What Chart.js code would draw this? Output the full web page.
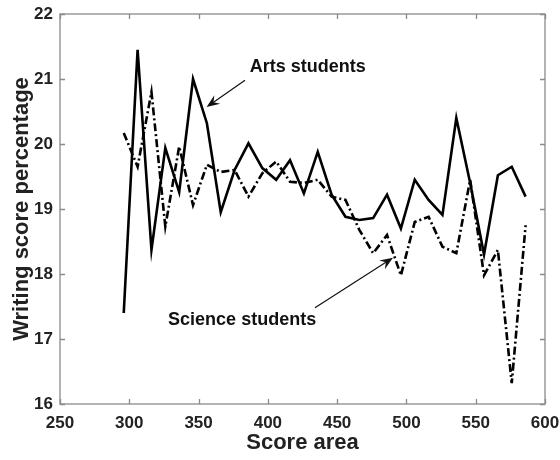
<!DOCTYPE html>
<html>
<head>
<meta charset="utf-8">
<script src="https://cdn.jsdelivr.net/npm/chart.js@4"></script>
<style>
  html, body { margin: 0; padding: 0; background: #fff; }
  #wrap { width: 560px; height: 460px; position: relative; }
</style>
</head>
<body>
<div id="wrap"><canvas id="chart" width="560" height="460"></canvas></div>
<script>
// score area positions
const scoreArea = [296, 306, 316, 326, 336, 346, 356, 366, 376, 386,
                   396, 406, 416, 426, 436, 446, 456, 466, 476, 486,
                   496, 506, 516, 526, 536, 546, 556, 566, 576, 586];
const artsScores = [17.4, 21.45, 18.37, 19.94, 19.26, 21.0, 20.32, 18.95, 19.6, 20.01,
                    19.63, 19.45, 19.75, 19.24, 19.88, 19.22, 18.88, 18.83, 18.86, 19.22,
                    18.7, 19.45, 19.14, 18.91, 20.4, 19.4, 18.3, 19.52, 19.65, 19.19];
const scienceScores = [20.17, 19.65, 20.8, 18.73, 19.96, 19.06, 19.68, 19.57, 19.6, 19.19,
                       19.55, 19.73, 19.42, 19.4, 19.45, 19.19, 19.14, 18.68, 18.32, 18.6,
                       17.98, 18.8, 18.88, 18.42, 18.32, 19.45, 17.98, 18.37, 16.32, 18.75];
const xTicks = [250, 300, 350, 400, 450, 500, 550, 600];
const yTicks = [16, 17, 18, 19, 20, 21, 22];

const FONT = '"Liberation Sans", Arial, sans-serif';
const TXT = '#222';

function toPts(xs, ys) {
  return xs.map((x, i) => ({ x: x, y: ys[i] }));
}

function arrow(ctx, x1, y1, x2, y2) {
  const ang = Math.atan2(y2 - y1, x2 - x1);
  const len = 14, wid = 0.38;
  ctx.beginPath();
  ctx.moveTo(x1, y1);
  ctx.lineTo(x2 - Math.cos(ang) * len * 0.6, y2 - Math.sin(ang) * len * 0.6);
  ctx.stroke();
  ctx.beginPath();
  ctx.moveTo(x2, y2);
  ctx.lineTo(x2 - len * Math.cos(ang - wid), y2 - len * Math.sin(ang - wid));
  ctx.lineTo(x2 - len * 0.6 * Math.cos(ang), y2 - len * 0.6 * Math.sin(ang));
  ctx.lineTo(x2 - len * Math.cos(ang + wid), y2 - len * Math.sin(ang + wid));
  ctx.closePath();
  ctx.fill();
}

const boxPlugin = {
  id: 'box',
  afterDatasetsDraw(chart) {
    const { ctx, chartArea: a, scales } = chart;
    const sx = scales.x, sy = scales.y;
    ctx.save();
    ctx.strokeStyle = '#8a8a8a';
    ctx.lineWidth = 1.3;
    ctx.strokeRect(a.left, a.top, a.right - a.left, a.bottom - a.top);
    ctx.beginPath();
    xTicks.forEach(v => {
      const p = Math.round(sx.getPixelForValue(v)) + 0.5;
      ctx.moveTo(p, a.bottom); ctx.lineTo(p, a.bottom - 5);
      ctx.moveTo(p, a.top); ctx.lineTo(p, a.top + 5);
    });
    yTicks.forEach(v => {
      const p = Math.round(sy.getPixelForValue(v)) + 0.5;
      ctx.moveTo(a.left, p); ctx.lineTo(a.left + 5, p);
      ctx.moveTo(a.right, p); ctx.lineTo(a.right - 5, p);
    });
    ctx.stroke();

    // annotations
    ctx.fillStyle = '#111';
    ctx.strokeStyle = '#111';
    ctx.lineWidth = 1.2;
    ctx.font = 'bold 18px ' + FONT;
    ctx.textBaseline = 'middle';
    ctx.textAlign = 'left';
    ctx.fillText('Arts students', sx.getPixelForValue(387), sy.getPixelForValue(21.18));
    arrow(ctx, sx.getPixelForValue(383.5), sy.getPixelForValue(20.98),
               sx.getPixelForValue(355.8), sy.getPixelForValue(20.57));
    ctx.fillText('Science students', sx.getPixelForValue(328), sy.getPixelForValue(17.29));
    arrow(ctx, sx.getPixelForValue(434), sy.getPixelForValue(17.48),
               sx.getPixelForValue(490.3), sy.getPixelForValue(18.25));
    ctx.restore();
  }
};

new Chart(document.getElementById('chart'), {
  type: 'line',
  data: {
    datasets: [
      {
        label: 'Arts students',
        data: toPts(scoreArea, artsScores),
        borderColor: '#000',
        borderWidth: 2.6,
        pointRadius: 0,
        tension: 0,
        fill: false
      },
      {
        label: 'Science students',
        data: toPts(scoreArea, scienceScores),
        borderColor: '#000',
        borderWidth: 2.6,
        borderDash: [8, 3, 2, 3],
        pointRadius: 0,
        tension: 0,
        fill: false
      }
    ]
  },
  options: {
    responsive: false,
    animation: false,
    layout: { padding: { left: 0, right: 15, top: 14, bottom: 0 } },
    plugins: { legend: { display: false }, tooltip: { enabled: false } },
    scales: {
      x: {
        type: 'linear',
        min: 250, max: 600,
        afterBuildTicks: s => { s.ticks = xTicks.map(v => ({ value: v })); },
        afterFit: s => { s.height = 56; s.paddingLeft = 0; s.paddingRight = 0; },
        grid: { display: false, drawTicks: false },
        border: { display: false },
        ticks: { color: TXT, font: { family: FONT, size: 17, weight: 'bold' }, padding: 9, maxRotation: 0 },
        title: { display: true, text: 'Score area', color: TXT, font: { family: FONT, size: 22, weight: 'bold' }, padding: { top: 0, bottom: 4 } }
      },
      y: {
        min: 16, max: 22,
        afterBuildTicks: s => { s.ticks = yTicks.map(v => ({ value: v })); },
        afterFit: s => { s.width = 60; s.paddingTop = 0; s.paddingBottom = 0; },
        grid: { display: false, drawTicks: false },
        border: { display: false },
        ticks: { color: TXT, font: { family: FONT, size: 17, weight: 'bold' }, padding: 7 },
        title: { display: true, text: 'Writing score percentage', color: TXT, font: { family: FONT, size: 22, weight: 'bold' }, padding: { top: 9, bottom: 0 } }
      }
    }
  },
  plugins: [boxPlugin]
});
</script>
</body>
</html>
